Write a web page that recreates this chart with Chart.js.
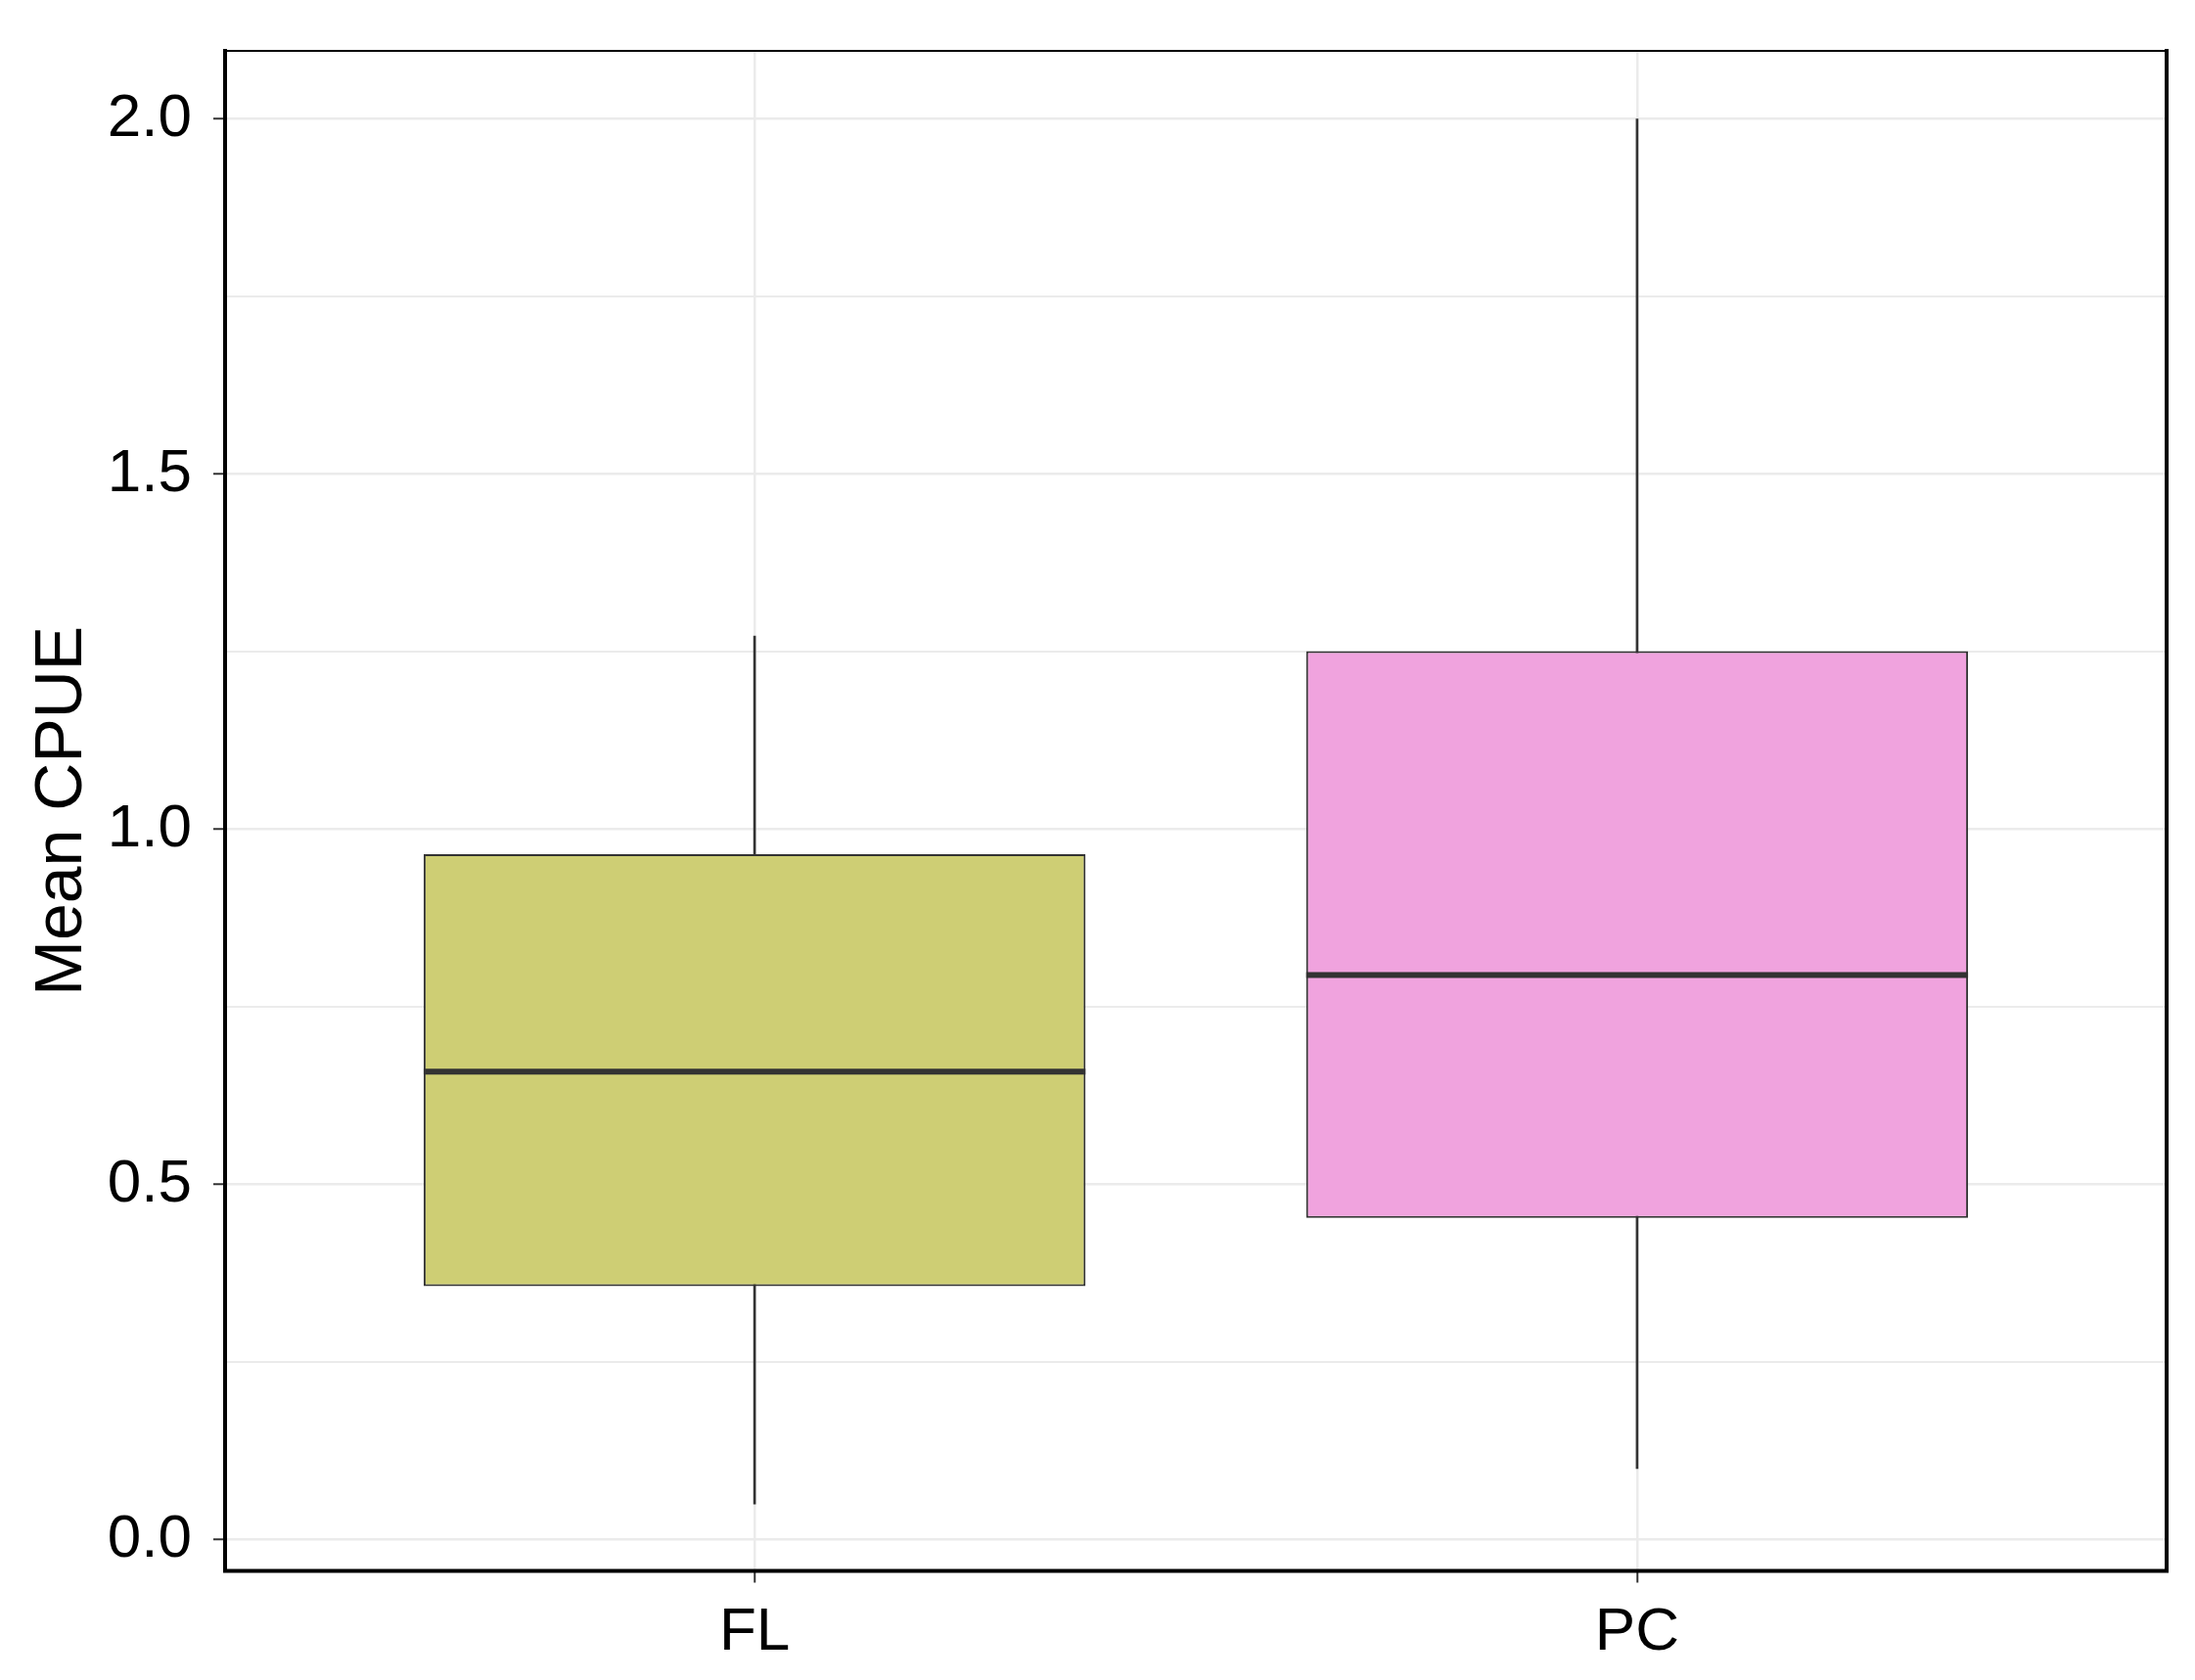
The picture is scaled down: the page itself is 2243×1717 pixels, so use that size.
<!DOCTYPE html>
<html>
<head>
<meta charset="utf-8">
<script src="https://cdn.jsdelivr.net/npm/chart.js@4/dist/chart.umd.min.js"></script>
<style>
html, body { margin: 0; padding: 0; background: #ffffff; }
canvas { display: block; }
</style>
</head>
<body>
<canvas id="c" width="2243" height="1717"></canvas>
<script>
// ---- data ----
const categories = ['FL', 'PC'];
const categoryPositions = [1, 2];
const whiskerLow = [0.05, 0.10];
const quartile1 = [0.357, 0.453];
const medians = [0.659, 0.795];
const quartile3 = [0.965, 1.251];
const whiskerHigh = [1.272, 2.0];
const yTickValues = [0, 0.25, 0.5, 0.75, 1, 1.25, 1.5, 1.75, 2];
const yLabelledTicks = [0, 0.5, 1, 1.5, 2];
const yRange = [-0.044, 2.096];
const xRange = [0.4, 2.6];
const boxWidth = 0.75;

// ---- styles ----
const boxColors = ['#CECE74', '#F0A3DE'];
const lineDark = '#333333';
const gridColor = '#EBEBEB';
const fontFamily = '"Liberation Sans", Arial, sans-serif';

const framePlugin = {
  id: 'frame',
  afterDraw(chart) {
    const { ctx, chartArea: a } = chart;
    ctx.save();
    ctx.strokeStyle = '#000000';
    ctx.lineCap = 'square';
    ctx.lineWidth = 2;
    ctx.beginPath();
    ctx.moveTo(a.left, a.top);
    ctx.lineTo(a.right, a.top);
    ctx.stroke();
    ctx.lineWidth = 4;
    ctx.beginPath();
    ctx.moveTo(a.left, a.top);
    ctx.lineTo(a.left, a.bottom);
    ctx.lineTo(a.right, a.bottom);
    ctx.lineTo(a.right, a.top);
    ctx.stroke();
    ctx.restore();
  }
};

const isMajor = (v) => yLabelledTicks.includes(v);

new Chart(document.getElementById('c'), {
  type: 'bar',
  data: {
    datasets: [
      {
        type: 'line',
        label: 'median',
        data: categoryPositions.map((x, i) => ({ x: x, y: medians[i] })),
        showLine: false,
        pointStyle: 'line',
        pointRadius: (ctx) => {
          const s = ctx.chart.scales.x;
          return Math.abs(s.getPixelForValue(categoryPositions[0] + boxWidth / 2) - s.getPixelForValue(categoryPositions[0]));
        },
        pointBorderWidth: 6,
        pointBorderColor: lineDark,
        pointBackgroundColor: lineDark,
        order: 1
      },
      {
        label: 'box',
        data: categoryPositions.map((x, i) => ({ x: x, y: [quartile1[i], quartile3[i]] })),
        backgroundColor: boxColors,
        borderColor: lineDark,
        borderWidth: 2,
        borderSkipped: false,
        grouped: false,
        categoryPercentage: 1,
        barPercentage: boxWidth,
        order: 2
      },
      {
        label: 'whisker',
        data: categoryPositions.map((x, i) => ({ x: x, y: [whiskerLow[i], whiskerHigh[i]] })),
        backgroundColor: lineDark,
        borderWidth: 0,
        barThickness: 2,
        grouped: false,
        order: 3
      }
    ]
  },
  options: {
    responsive: false,
    devicePixelRatio: 1,
    animation: false,
    events: [],
    layout: { padding: { top: 52, right: 29, left: 0, bottom: 0 } },
    plugins: { legend: { display: false }, tooltip: { enabled: false } },
    scales: {
      x: {
        type: 'linear',
        min: xRange[0],
        max: xRange[1],
        bounds: 'data',
        offset: false,
        afterBuildTicks: (s) => { s.ticks = categoryPositions.map(v => ({ value: v })); },
        afterFit: (s) => { s.height = 111.5; s.paddingLeft = 0; s.paddingRight = 0; },
        border: { display: false },
        grid: {
          offset: false,
          color: gridColor,
          lineWidth: 2.5,
          tickLength: 12,
          tickColor: lineDark,
          tickWidth: 2
        },
        ticks: {
          autoSkip: false,
          maxRotation: 0,
          padding: 14,
          color: '#000000',
          font: { family: fontFamily, size: 62 },
          callback: (v) => { const i = categoryPositions.indexOf(v); return i >= 0 ? categories[i] : ''; }
        }
      },
      y: {
        type: 'linear',
        min: yRange[0],
        max: yRange[1],
        bounds: 'data',
        afterBuildTicks: (s) => { s.ticks = yTickValues.map(v => ({ value: v })); },
        afterFit: (s) => { s.width = 230; s.paddingTop = 0; s.paddingBottom = 0; },
        border: { display: false },
        grid: {
          color: gridColor,
          lineWidth: (ctx) => (ctx.tick && isMajor(ctx.tick.value)) ? 2.5 : 2,
          tickLength: 12,
          tickColor: (ctx) => (ctx.tick && isMajor(ctx.tick.value)) ? lineDark : 'rgba(0,0,0,0)',
          tickWidth: 2
        },
        ticks: {
          autoSkip: false,
          padding: 22,
          color: '#000000',
          font: { family: fontFamily, size: 62 },
          callback: (v) => isMajor(v) ? v.toFixed(1) : ''
        },
        title: {
          display: true,
          text: 'Mean CPUE',
          color: '#000000',
          font: { family: fontFamily, size: 68 },
          padding: { top: 23, bottom: 0 }
        }
      }
    }
  },
  plugins: [framePlugin]
});
</script>
</body>
</html>
